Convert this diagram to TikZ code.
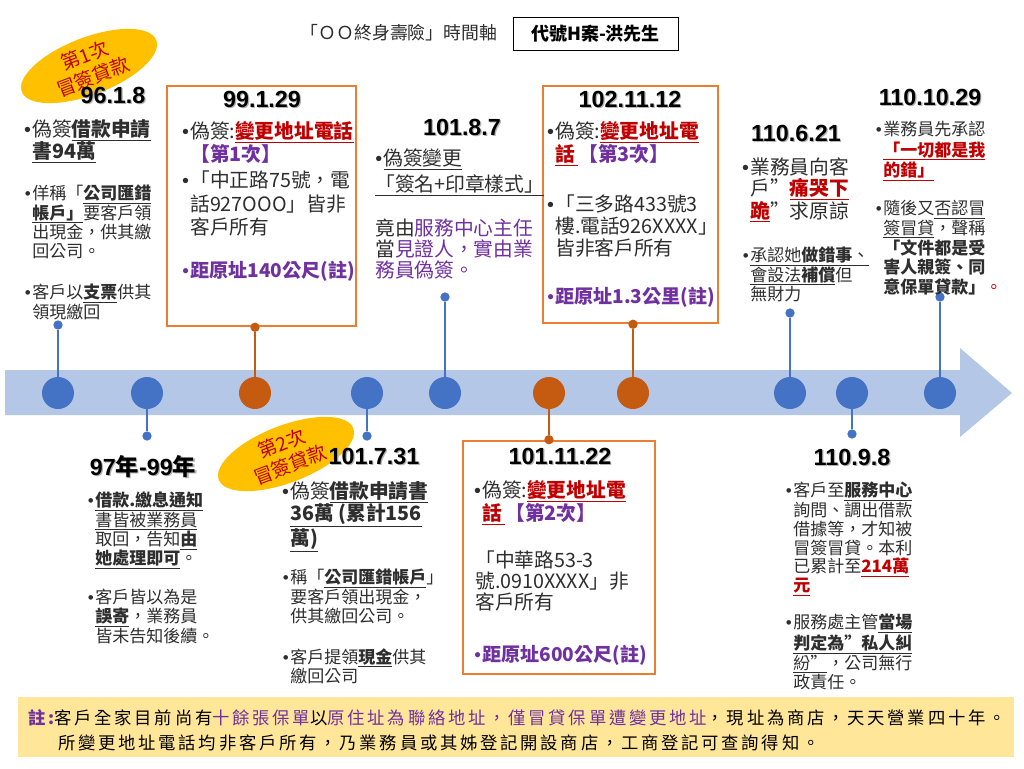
\documentclass[tikz,border=0pt]{standalone}
\usepackage{fontspec}
\usepackage{xcolor}
\setmainfont{Noto Sans CJK TC}
\newfontfamily\datefont{Liberation Sans}
\newfontfamily\notefont{Noto Sans CJK TC}[LetterSpace=16]
\usetikzlibrary{shapes.geometric}
\definecolor{txtgray}{HTML}{2E2E2E}
\definecolor{markred}{HTML}{C00000}
\definecolor{markpurple}{HTML}{7030A0}
\definecolor{boxorange}{HTML}{ED7D31}
\definecolor{dotblue}{HTML}{4472C4}
\definecolor{dotorange}{HTML}{C55A11}
\definecolor{axisblue}{HTML}{B4C7E7}
\definecolor{ovalgold}{HTML}{FFC000}
\definecolor{notefill}{HTML}{FFE699}
\newcommand\fsa{\fontsize{14.8}{17}\selectfont}
\newcommand\fsb{\fontsize{12.75}{14.4}\selectfont}
\newcommand\ul[1]{\underline{#1}}
\newcommand\rd[1]{\textcolor{markred}{\bfseries\ul{#1}}}
\newcommand\pp[1]{\textcolor{markpurple}{\bfseries #1}}
\newcommand\bul{{\datefont\textbullet}}
\newcommand\hb{\llap{\bul\hspace{1pt}}}
\newcommand\dt[1]{\makebox[0pt][l]{\hspace{0.9pt}\raisebox{-0.9pt}{\textcolor{black!30}{#1}}}#1}

\begin{document}
\begin{tikzpicture}[x=0.75pt, y=-0.75pt,
  every node/.style={text=txtgray},
  datelabel/.style={font=\datefont\bfseries\fontsize{17.5}{20}\selectfont, text=black, inner sep=0pt},
  itema/.style={anchor=north west, align=left, inner sep=0pt, font=\fsa},
  itemb/.style={anchor=north west, align=left, inner sep=0pt, font=\fsb},
  bdot/.style={circle, fill=dotblue, minimum size=24pt, inner sep=0pt},
  odot/.style={circle, fill=dotorange, minimum size=24pt, inner sep=0pt},
  enddot/.style={circle, fill=dotblue, minimum size=7pt, inner sep=0pt},
  oenddot/.style={circle, fill=dotorange, minimum size=7pt, inner sep=0pt},
  stemline/.style={dotblue, line width=2.2pt},
  ostemline/.style={dotorange, line width=2.2pt},
  orangebox/.style={draw=boxorange, line width=1.9pt, inner sep=0pt},
  loanoval/.style={ellipse, fill=ovalgold, minimum width=108pt, minimum height=36pt, inner sep=0pt,
    rotate=21, align=center, text=markred, font=\fontsize{14.3}{17}\selectfont}]

  \fill[white] (0,0) rectangle (1024,768);
  \useasboundingbox (0,0) rectangle (1024,768);

  \node[font=\fontsize{13.4}{16}\selectfont] (title) at (399,33) {「ＯＯ終身壽險」時間軸};
  \node[draw=black, line width=0.75pt, minimum width=123.75pt, minimum height=24.75pt,
    font=\bfseries\fontsize{13.5}{16}\selectfont, text=black] (casebox) at (595.5,33.5) {代號H案-洪先生};

  \fill[axisblue] (5,370) -- (960,370) -- (960,348) -- (1012,393) -- (960,437) -- (960,415) -- (5,415) -- cycle;

  \node[orangebox, minimum width=141.75pt, minimum height=180pt] (box3) at (261.5,206) {};
  \node[orangebox, minimum width=144pt, minimum height=174.75pt] (box6) at (559,557.5) {};
  \node[orangebox, minimum width=131.25pt, minimum height=177.75pt] (box7) at (630.5,204.5) {};

  \foreach \i/\x/\s in {1/58/bdot, 2/147/bdot, 3/255/odot, 4/367/bdot, 5/445/bdot,
                        6/549/odot, 7/633/odot, 8/790/bdot, 9/852/bdot, 10/940/bdot}
    \node[\s] (c\i) at (\x,393) {};

  \node[enddot] (e1) at (58,325) {};
  \node[enddot] (e2) at (147,436) {};
  \node[oenddot] (e3) at (box3.south -| c3) {};
  \node[enddot] (e4) at (367,436) {};
  \node[enddot] (e5) at (445,297) {};
  \node[oenddot] (e6) at (box6.north -| c6) {};
  \node[oenddot] (e7) at (box7.south -| c7) {};
  \node[enddot] (e8) at (790,313) {};
  \node[enddot] (e9) at (852,434) {};
  \node[enddot] (e10) at (940,297) {};

  \draw[stemline] (c1) -- (e1);
  \draw[stemline] (c2) -- (e2);
  \draw[ostemline] (c3) -- (e3);
  \draw[stemline] (c4) -- (e4);
  \draw[stemline] (c5) -- (e5);
  \draw[ostemline] (c6) -- (e6);
  \draw[ostemline] (c7) -- (e7);
  \draw[stemline] (c8) -- (e8);
  \draw[stemline] (c9) -- (e9);
  \draw[stemline] (c10) -- (e10);

  \node[loanoval] (loan1) at (89,66) {第1次\\冒簽貸款};
  \node[loanoval] (loan2) at (286,454) {第2次\\冒簽貸款};

  \node[datelabel] (t1) at (113,96) {\dt{96.1.8}};
  \node[itema] (n1a) at (32,119) {\hb 偽簽\ul{\bfseries 借款申請}\\\ul{\bfseries 書94萬}};
  \node[itemb] (n1b) at (32,185) {\hb 佯稱「\ul{\bfseries 公司匯錯}\\\ul{\bfseries 帳戶」}要客戶領\\出現金，供其繳\\回公司。};
  \node[itemb] (n1c) at (32,284) {\hb 客戶以\ul{\bfseries 支票}供其\\領現繳回};

  \node[datelabel] (t2) at (143,467) {\dt{97{\rmfamily 年}-99{\rmfamily 年}}};
  \node[itemb] (n2a) at (95,492) {\hb\ul{\bfseries 借款.繳息通知}\\\ul{書皆被業務員}\\取回，告知\ul{\bfseries 由}\\\ul{\bfseries 她處理即可}。};
  \node[itemb] (n2b) at (95,589) {\hb 客戶皆以為是\\\ul{\bfseries 誤寄}，業務員\\皆未告知後續。};

  \node[datelabel] (t3) at (262,100) {\dt{99.1.29}};
  \node[itema] (n3a) at (190,121) {\hb 偽簽:\rd{變更地址電話}\\\pp{【第1次】}};
  \node[itema, font=\fontsize{14.8}{17.6}\selectfont] (n3b) at (190,171) {\hb「中正路75號，電\\話927OOO」皆非\\客戶所有};
  \node[itema, text=markpurple, font=\fontsize{14.3}{17}\selectfont] (n3c) at (190,261) {\hb\bfseries 距原址140公尺(註)};

  \node[datelabel] (t4) at (374,457) {\dt{101.7.31}};
  \node[itema, font=\fontsize{14.8}{16.5}\selectfont] (n4a) at (290,481) {\hb 偽簽\ul{\bfseries 借款申請書}\\\ul{\bfseries 36萬 (累計156}\\\ul{\bfseries 萬)}};
  \node[itemb] (n4b) at (290,569) {\hb 稱「\ul{\bfseries 公司匯錯帳戶}」\\要客戶領出現金，\\供其繳回公司。};
  \node[itemb] (n4c) at (290,648) {\hb 客戶提領\ul{\bfseries 現金}供其\\繳回公司};

  \node[datelabel] (t5) at (462,128) {\dt{101.8.7}};
  \node[itema, font=\fontsize{14.8}{19.5}\selectfont] (n5a) at (375,149) {\bul\hspace{1pt}\ul{偽簽變更}\\\ul{「簽名+印章樣式」}};
  \node[itema, font=\fontsize{14.8}{15.75}\selectfont] (n5b) at (375,219) {竟由\textcolor{markpurple}{服務中心主任}\\當\textcolor{markpurple}{見證人，實由業}\\\textcolor{markpurple}{務員偽簽。}};

  \node[datelabel] (t6) at (560,457) {\dt{101.11.22}};
  \node[itema] (n6a) at (482,480) {\hb 偽簽:\rd{變更地址電}\\\rd{話\,}\pp{【第2次】}};
  \node[itema, font=\fontsize{14.8}{15.75}\selectfont] (n6b) at (475,551) {「中華路53-3\\號.0910XXXX」非\\客戶所有};
  \node[itema, text=markpurple, font=\fontsize{14.3}{17}\selectfont] (n6c) at (482,645) {\hb\bfseries 距原址600公尺(註)};

  \node[datelabel] (t7) at (630,100) {\dt{102.11.12}};
  \node[itema] (n7a) at (555,121) {\hb 偽簽:\rd{變更地址電}\\\rd{話\,}\pp{【第3次】}};
  \node[itema, font=\fontsize{14.8}{16.5}\selectfont] (n7b) at (555,195) {\hb「三多路433號3\\樓.電話926XXXX」\\皆非客戶所有};
  \node[itema, text=markpurple, font=\fontsize{14.3}{17}\selectfont] (n7c) at (555,287) {\hb\bfseries 距原址1.3公里(註)};

  \node[datelabel] (t8) at (796,134) {\dt{110.6.21}};
  \node[itema, font=\fontsize{14.8}{15.75}\selectfont] (n8a) at (750,157) {\hb 業務員向客\\戶”\rd{痛哭下}\\\rd{跪}”求原諒};
  \node[itemb] (n8b) at (750,247) {\hb\ul{承認她\textbf{做錯事}、}\\\ul{會設法\textbf{補償}}但\\無財力};

  \node[datelabel] (t9) at (852,458) {\dt{110.9.8}};
  \node[itemb, font=\fontsize{12.75}{14}\selectfont] (n9a) at (793,482) {\hb 客戶至\ul{\bfseries 服務中心}\\詢問、調出借款\\借據等，才知被\\冒簽冒貸。本利\\已累計至\rd{214萬}\\\rd{元}};
  \node[itemb, font=\fontsize{12.75}{14}\selectfont] (n9b) at (793,614) {\hb 服務處主管\ul{\bfseries 當場}\\\ul{\bfseries 判定為”私人糾}\\\ul{紛”}，公司無行\\政責任。};

  \node[datelabel] (t10) at (930,98) {\dt{110.10.29}};
  \node[itemb, font=\fontsize{12.75}{15.4}\selectfont] (n10a) at (883,121) {\hb 業務員先承認\\\rd{「一切都是我}\\\rd{的錯」}};
  \node[itemb, font=\fontsize{12.75}{14.8}\selectfont] (n10b) at (883,200) {\hb 隨後又\ul{否認冒}\\\ul{簽冒貸}，聲稱\\\textbf{「文件都是受}\\\textbf{害人親簽、同}\\\textbf{意保單貸款」}\textcolor{markred}{。}};

  \node[fill=notefill, minimum width=747pt, minimum height=45pt, inner sep=0pt] (notebg) at (516,727) {};
  \node[anchor=north west, align=left, inner sep=0pt, font=\notefont\fontsize{13}{18.75}\selectfont, text=black] (note) at (28,709)
    {\textcolor{markpurple}{\bfseries 註:}客戶全家目前尚有\textcolor{markpurple}{十餘張保單}以\textcolor{markpurple}{原住址為聯絡地址，僅冒貸保單遭變更地址}，現址為商店，天天營業四十年。\\\hspace*{22.5pt}所變更地址電話均非客戶所有，乃業務員或其姊登記開設商店，工商登記可查詢得知。};
\end{tikzpicture}
\end{document}
